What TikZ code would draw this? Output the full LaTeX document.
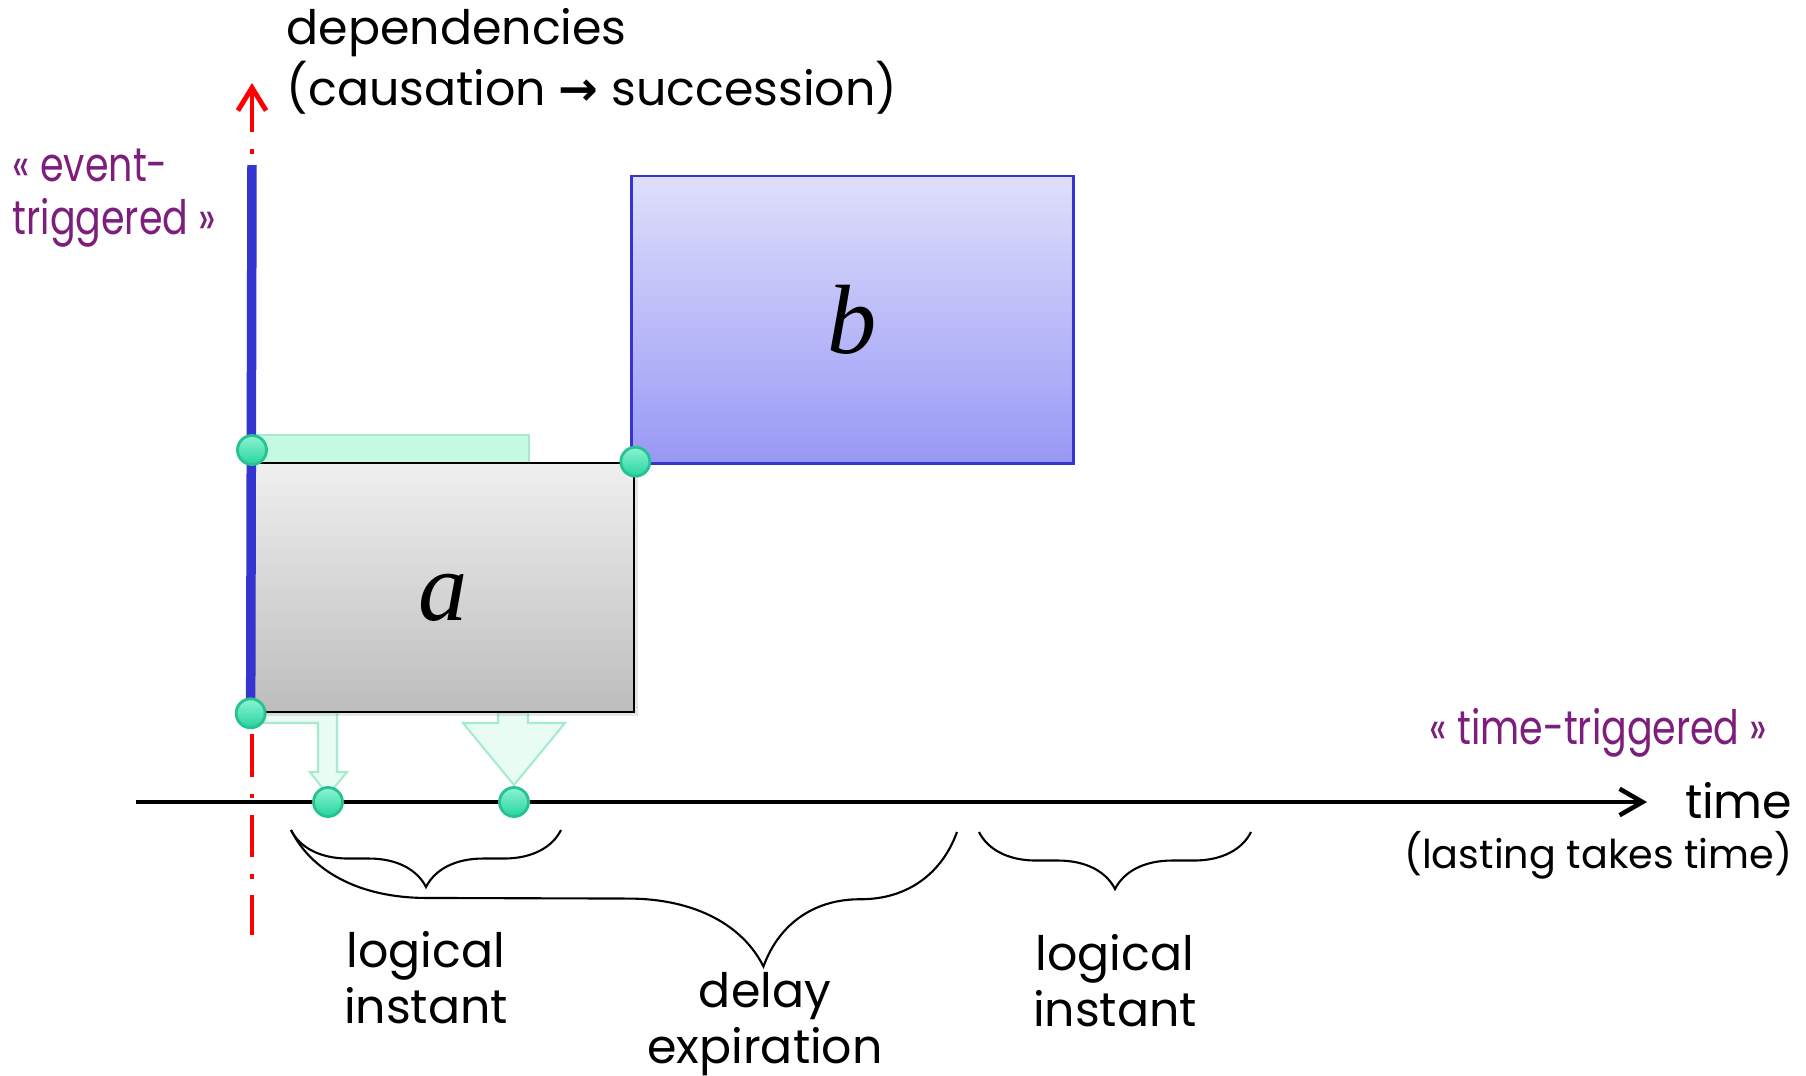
\documentclass[tikz,border=0pt]{standalone}
\usepackage{fontspec}
\setmainfont{Poppins}
\newfontfamily\narrowfont[FakeStretch=0.8]{Poppins}
\newfontfamily\symbfont{DejaVu Sans}
\newfontfamily\varfont{Liberation Serif}
\usepackage{tikz}
\usetikzlibrary{arrows.meta,decorations.pathreplacing,shadows,positioning}
\definecolor{graytop}{HTML}{EFEFEF}
\definecolor{graybot}{HTML}{BDBDBD}
\definecolor{bluetop}{HTML}{DFDFFB}
\definecolor{bluebot}{HTML}{9898F6}
\definecolor{bluedge}{HTML}{3434D0}
\definecolor{mintfill}{HTML}{C5F9E2}
\definecolor{mintedge}{HTML}{A6EBCD}
\definecolor{flowfill}{HTML}{E8FCF3}
\definecolor{dottop}{HTML}{8CF3D2}
\definecolor{dotbot}{HTML}{26D49F}
\definecolor{dotedge}{HTML}{26C292}
\definecolor{tagpurple}{HTML}{7D1E7D}
\tikzset{
	box/.style = {inner sep=0pt, font=\varfont\itshape\fontsize{28}{28}\selectfont},
	dot/.style = {circle, draw=dotedge, line width=0.8pt, top color=dottop, bottom color=dotbot,
     minimum size=0.29cm, inner sep=0pt},
	lbl/.style = {inner sep=0pt, align=center, font=\fontsize{13.5}{15.8}\selectfont},
	tag/.style = {inner sep=0pt, align=left, text=tagpurple, font=\narrowfont\fontsize{13.5}{15}\selectfont},
	brace/.style = {decorate, decoration={brace, mirror, amplitude=#1}, line width=0.6pt},
	flow/.style = {fill=flowfill, draw=mintedge, line width=0.6pt},
	axis/.style = {line width=1.3pt, -{Straight Barb[length=6.5pt, width=7.5pt, line width=1.3pt]}},
}

\begin{document}
\begin{tikzpicture}[x=0.01cm, y=-0.01cm]
    \useasboundingbox (0,0) rectangle (1806,1075);
    % band and flows from a to the time line
    \draw[fill=mintfill, draw=mintedge, line width=0.6pt] (252,435) rectangle (529,463);
    \draw[flow] (252,712) -- (337,712) -- (337,772) -- (347,772) -- (328,795)
        -- (310,772) -- (318,772) -- (318,723) -- (252,723) -- cycle;
    \draw[flow] (498,712) -- (528,712) -- (528,723) -- (565,723) -- (514,785)
        -- (463,723) -- (498,723) -- cycle;
    % boxes
    \node[box, draw=black, line width=0.7pt, top color=graytop, bottom color=graybot,
        drop shadow={opacity=0.2, shadow xshift=1.2pt, shadow yshift=-1.2pt},
        minimum width=3.82cm, minimum height=2.49cm] (a) at (443,587.5)
        {\raisebox{-0.1cm}[\height][\depth]{a}};
    \node[box, draw=bluedge, line width=0.8pt, top color=bluetop, bottom color=bluebot,
        minimum width=4.41cm, minimum height=2.87cm] (b) at (852.5,319.5) {b};
    % dependency axis
    \coordinate (vbot) at (252,935);
    \coordinate (vtop) at (252,83);
    \coordinate (bl1) at (252,165);
    \draw[red, line width=1.4pt, dash pattern=on 12pt off 4.8pt on 1.3pt off 4.8pt,
        {Straight Barb[length=6.5pt, width=8pt, line width=1.4pt]}-] (vtop) -- (vbot);
    \draw[bluedge, line width=2.7pt] (bl1) -- (a.south west);
    % time axis
    \coordinate (t0) at (136,802);
    \coordinate (t1) at (1647,802);
    \draw[axis] (t0) -- (t1);
    % braces
    \coordinate (br1) at (291,830);
    \coordinate (br2) at (561,830);
    \coordinate (br3) at (957,832);
    \coordinate (br4) at (979,832);
    \coordinate (br5) at (1251,832);
    \draw[brace=0.57cm] (br1) -- (br2);
    \draw[brace=1.35cm, decoration={aspect=0.71}] (br1) -- (br3);
    \draw[brace=0.57cm] (br4) -- (br5);
    % instants
    \node[dot] (p1) at (252,450) {};
    \node[dot] (p2) at (a.south west) {};
    \node[dot] (p3) at (a.north east) {};
    \node[dot] (p4) at (328,802) {};
    \node[dot] (p5) at (514,802) {};
    % labels
    \node[lbl, align=left, anchor=north west] (dep) at (286,8)
        {dependencies\\(causation {\symbfont\bfseries →} succession)};
    \node[tag, anchor=north west] (evt) at (12,148) {« event-\\triggered »};
    \node[tag, anchor=base east] (tt) at (1768,744) {« time-triggered »};
    \node[lbl, anchor=base east] (time) at (1793,818) {time};
    \node[lbl, anchor=base east, font=\fontsize{11.3}{13}\selectfont] (last) at (1793,868)
        {(lasting takes time)};
    \node[lbl, anchor=north] (li1) at (426,931) {logical\\instant};
    \node[lbl, anchor=north] (de) at (765,972) {delay\\expiration};
    \node[lbl, anchor=north] (li2) at (1115,934) {logical\\instant};
\end{tikzpicture}
\end{document}
